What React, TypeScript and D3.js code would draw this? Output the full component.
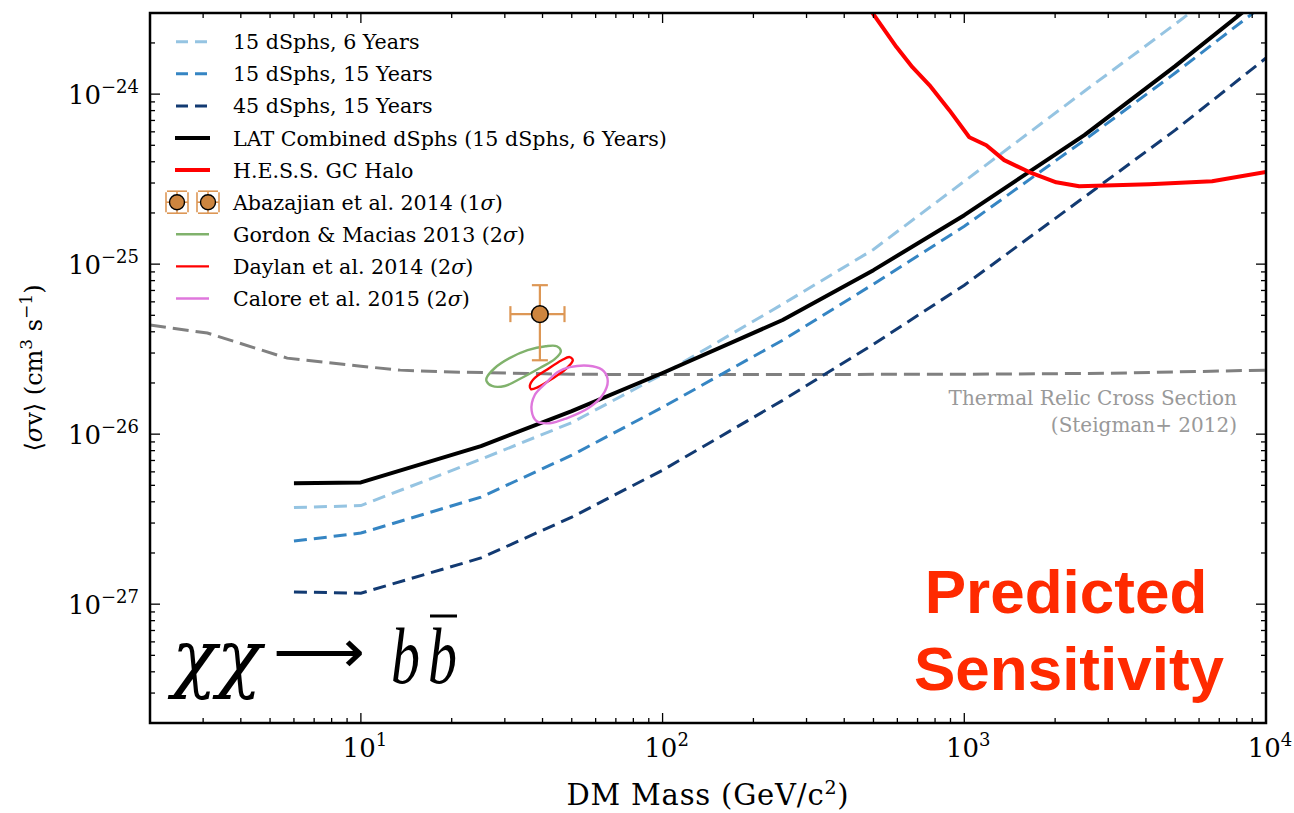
import React from 'react';
import * as d3 from 'd3';

const W = 1294;
const H = 813;
const M = { left: 150, right: 1266, top: 13, bottom: 723 };

// Mass grid (GeV) of the dSph sensitivity projections
const massPoints = [6, 10, 25, 50, 100, 250, 500, 1000, 2500, 5000, 10000];
const latCombined = [5.15e-27, 5.2e-27, 8.5e-27, 1.365e-26, 2.29e-26, 4.69e-26, 9.22e-26, 1.94e-25, 5.74e-25, 1.46e-24, 3.9e-24];
const sens15dSph6yr = [3.7e-27, 3.8e-27, 7.12e-27, 1.17e-26, 2.25e-26, 5.82e-26, 1.22e-25, 3.07e-25, 1.04e-24, 2.58e-24, 6.6e-24];
const sens15dSph15yr = [2.35e-27, 2.62e-27, 4.26e-27, 7.52e-27, 1.44e-26, 3.57e-26, 7.63e-26, 1.67e-25, 5.36e-25, 1.33e-24, 3.43e-24];
const sens45dSph15yr = [1.18e-27, 1.16e-27, 1.87e-27, 3.25e-27, 6.14e-27, 1.58e-26, 3.38e-26, 7.52e-26, 2.48e-25, 6.14e-25, 1.63e-24];

// H.E.S.S. Galactic Center halo limit
const hessMass = [490, 596, 673, 766, 892, 1039, 1183, 1356, 1641, 2017, 2403, 4100, 6627, 10000];
const hessSigmaV = [3.1e-24, 1.89e-24, 1.44e-24, 1.13e-24, 8.05e-25, 5.58e-25, 5.0e-25, 4.09e-25, 3.48e-25, 3.03e-25, 2.87e-25, 2.95e-25, 3.07e-25, 3.48e-25];

// Thermal relic cross section (Steigman+ 2012)
const thermalMass = [2, 3.1, 5.7, 10, 13.5, 20, 50, 100, 1000, 3000, 10000];
const thermalSigmaV = [4.38e-26, 3.93e-26, 2.8e-26, 2.51e-26, 2.38e-26, 2.32e-26, 2.25e-26, 2.24e-26, 2.25e-26, 2.28e-26, 2.38e-26];

// Galactic Center excess best-fit regions (closed contours)
const gordonMass = [26.1, 27.8, 31.1, 35.7, 41.0, 44.6, 46.0, 43.9, 39.2, 34.1, 30.0, 27.2, 26.1];
const gordonSigmaV = [2.14e-26, 2.45e-26, 2.8e-26, 3.12e-26, 3.29e-26, 3.29e-26, 3.08e-26, 2.76e-26, 2.45e-26, 2.14e-26, 1.92e-26, 1.92e-26, 2.05e-26];
const daylanMass = [36.3, 37.4, 41.6, 46.3, 49.2, 50.4, 47.7, 42.9, 38.6, 36.6];
const daylanSigmaV = [1.92e-26, 2.11e-26, 2.41e-26, 2.72e-26, 2.84e-26, 2.72e-26, 2.41e-26, 2.11e-26, 1.89e-26, 1.84e-26];
const caloreMass = [49.2, 58.6, 63.8, 65.8, 63.3, 57.3, 48.1, 42.3, 38.3, 36.8, 37.7, 41.3, 44.9];
const caloreSigmaV = [2.48e-26, 2.51e-26, 2.35e-26, 2.05e-26, 1.7e-26, 1.44e-26, 1.24e-26, 1.16e-26, 1.19e-26, 1.38e-26, 1.7e-26, 2.02e-26, 2.32e-26];

// Abazajian et al. 2014 best fit with 1 sigma errors
const abazajianMass = [39.2];
const abazajianMassRange = [[31.3, 47.3]];
const abazajianSigmaV = [5.08e-26];
const abazajianSigmaVRange = [[2.72e-26, 7.52e-26]];

const xMajorTicks = [10, 100, 1000, 10000];
const xTickExponents = ['1', '2', '3', '4'];
const yMajorTicks = [1e-27, 1e-26, 1e-25, 1e-24];
const yTickExponents = ['\u221227', '\u221226', '\u221225', '\u221224'];

const legendLabels = [
  '15 dSphs, 6 Years',
  '15 dSphs, 15 Years',
  '45 dSphs, 15 Years',
  'LAT Combined dSphs (15 dSphs, 6 Years)',
  'H.E.S.S. GC Halo',
  'Abazajian et al. 2014 (1',
  'Gordon & Macias 2013 (2',
  'Daylan et al. 2014 (2',
  'Calore et al. 2015 (2',
];

const C_LIGHT = '#95c4e2';
const C_MID = '#3585c3';
const C_DARK = '#123a72';
const C_RED = '#ff0000';
const C_GREEN = '#80b26c';
const C_PINK = '#df77dc';
const C_PERU = '#cd853f';
const C_ERR = '#dd9755';
const SERIF = '"DejaVu Serif", serif';
const TIMES = '"Liberation Serif", serif';

const x = d3.scaleLog().domain([2, 1e4]).range([M.left, M.right]);
const y = d3.scaleLog().domain([2e-28, 3e-24]).range([M.bottom, M.top]);

const zip = (a: number[], b: number[]) => a.map((v, i) => [v, b[i]] as [number, number]);
const line = d3.line<[number, number]>().x(d => x(d[0])).y(d => y(d[1]));
const closed = d3.line<[number, number]>().x(d => x(d[0])).y(d => y(d[1])).curve(d3.curveCatmullRomClosed.alpha(0.5));

function minorTicks(lo: number, hi: number) {
  const out: number[] = [];
  for (let e = Math.floor(Math.log10(lo)); e <= Math.ceil(Math.log10(hi)); e++) {
    for (let k = 2; k <= 9; k++) {
      const v = k * Math.pow(10, e);
      if (v > lo && v < hi) out.push(v);
    }
  }
  return out;
}

const xMinor = minorTicks(2, 1e4);
const yMinor = minorTicks(2e-28, 3e-24);

export default function App() {
  const legendY = (i: number) => 41.7 + i * 32.1;
  const hx0 = 176;
  const hx1 = 209;

  const abX = x(abazajianMass[0]);
  const abY = y(abazajianSigmaV[0]);

  return (
    <svg width={W} height={H} style={{ position: 'absolute', left: 0, top: 0, background: '#fff' }}>
      <defs>
        <clipPath id="plot-clip">
          <rect x={M.left} y={M.top} width={M.right - M.left} height={M.bottom - M.top} />
        </clipPath>
      </defs>

      <g clipPath="url(#plot-clip)" fill="none">
        <path d={line(zip(thermalMass, thermalSigmaV))!} stroke="#808080" strokeWidth={3} strokeDasharray="16,7" />
        <path d={line(zip(massPoints, sens15dSph6yr))!} stroke={C_LIGHT} strokeWidth={3} strokeDasharray="13,7" />
        <path d={line(zip(massPoints, sens15dSph15yr))!} stroke={C_MID} strokeWidth={3} strokeDasharray="13,7" />
        <path d={line(zip(massPoints, sens45dSph15yr))!} stroke={C_DARK} strokeWidth={3} strokeDasharray="13,7" />
        <path d={line(zip(massPoints, latCombined))!} stroke="#000" strokeWidth={4} strokeLinejoin="round" />
        <path d={line(zip(hessMass, hessSigmaV))!} stroke={C_RED} strokeWidth={4} strokeLinejoin="round" />
        <path d={closed(zip(gordonMass, gordonSigmaV))!} stroke={C_GREEN} strokeWidth={2.4} />
        <path d={closed(zip(daylanMass, daylanSigmaV))!} stroke={C_RED} strokeWidth={2.4} />
        <path d={closed(zip(caloreMass, caloreSigmaV))!} stroke={C_PINK} strokeWidth={2.4} />

        {/* Abazajian et al. error bars and marker */}
        <g stroke={C_ERR} strokeWidth={2.2}>
          <line x1={x(abazajianMassRange[0][0])} x2={x(abazajianMassRange[0][1])} y1={abY} y2={abY} />
          <line x1={abX} x2={abX} y1={y(abazajianSigmaVRange[0][0])} y2={y(abazajianSigmaVRange[0][1])} />
          <line x1={x(abazajianMassRange[0][0])} x2={x(abazajianMassRange[0][0])} y1={abY - 8} y2={abY + 8} />
          <line x1={x(abazajianMassRange[0][1])} x2={x(abazajianMassRange[0][1])} y1={abY - 8} y2={abY + 8} />
          <line x1={abX - 8} x2={abX + 8} y1={y(abazajianSigmaVRange[0][0])} y2={y(abazajianSigmaVRange[0][0])} />
          <line x1={abX - 8} x2={abX + 8} y1={y(abazajianSigmaVRange[0][1])} y2={y(abazajianSigmaVRange[0][1])} />
        </g>
        <circle cx={abX} cy={abY} r={8.3} fill={C_PERU} stroke="#000" strokeWidth={1.5} />
      </g>

      {/* Ticks, inward on all four sides */}
      <g stroke="#000" strokeWidth={1.3}>
        {xMajorTicks.map(t => (
          <g key={'xM' + t}>
            <line x1={x(t)} x2={x(t)} y1={M.bottom} y2={M.bottom - 10} />
            <line x1={x(t)} x2={x(t)} y1={M.top} y2={M.top + 10} />
          </g>
        ))}
        {xMinor.map(t => (
          <g key={'xm' + t}>
            <line x1={x(t)} x2={x(t)} y1={M.bottom} y2={M.bottom - 5} />
            <line x1={x(t)} x2={x(t)} y1={M.top} y2={M.top + 5} />
          </g>
        ))}
        {yMajorTicks.map(t => (
          <g key={'yM' + t}>
            <line x1={M.left} x2={M.left + 10} y1={y(t)} y2={y(t)} />
            <line x1={M.right} x2={M.right - 10} y1={y(t)} y2={y(t)} />
          </g>
        ))}
        {yMinor.map(t => (
          <g key={'ym' + t}>
            <line x1={M.left} x2={M.left + 5} y1={y(t)} y2={y(t)} />
            <line x1={M.right} x2={M.right - 5} y1={y(t)} y2={y(t)} />
          </g>
        ))}
      </g>

      <rect x={M.left} y={M.top} width={M.right - M.left} height={M.bottom - M.top} fill="none" stroke="#000" strokeWidth={2.5} />

      {/* Tick labels */}
      <g fontFamily={SERIF} fill="#000">
        {xMajorTicks.map((t, i) => (
          <text key={'xl' + t} x={x(t) + 4} y={757} textAnchor="middle" fontSize={26}>
            10<tspan dy={-11} fontSize={18}>{xTickExponents[i]}</tspan>
          </text>
        ))}
        {yMajorTicks.map((t, i) => (
          <text key={'yl' + t} x={139} y={y(t) + 10} textAnchor="end" fontSize={26}>
            10<tspan dy={-11} fontSize={18}>{yTickExponents[i]}</tspan>
          </text>
        ))}
      </g>

      {/* Axis titles */}
      <text x={708} y={805} textAnchor="middle" fontFamily={SERIF} fontSize={29} letterSpacing={0.8}>
        DM Mass (GeV/c<tspan dy={-11} fontSize={19}>2</tspan><tspan dy={11}>)</tspan>
      </text>
      <text transform={`translate(42,${(M.top + M.bottom) / 2}) rotate(-90)`} textAnchor="middle" fontFamily={SERIF} fontSize={24}>
        {'\u27E8'}<tspan fontStyle="italic">{'\u03C3'}</tspan>v{'\u27E9'} (cm<tspan dy={-10} fontSize={17}>3</tspan>
        <tspan dy={10}> s</tspan><tspan dy={-10} fontSize={17}>{'\u22121'}</tspan><tspan dy={10}>)</tspan>
      </text>

      {/* Thermal relic annotation */}
      <g fontFamily={SERIF} fontSize={20} fill="#999" textAnchor="end">
        <text x={1237} y={405}>Thermal Relic Cross Section</text>
        <text x={1237} y={432}>(Steigman+ 2012)</text>
      </g>

      {/* Annihilation channel */}
      <g fill="#000">
        <text x={172} y={683} fontFamily={SERIF} fontSize={74} fontStyle="italic">{'\u03C7\u03C7'}</text>
        <text x={273} y={672} fontFamily='"DejaVu Sans", sans-serif' fontSize={60} textLength={92} lengthAdjust="spacingAndGlyphs">{'\u27F6'}</text>
        <text x={391} y={683} fontFamily={TIMES} fontSize={80} fontStyle="italic" textLength={29} lengthAdjust="spacingAndGlyphs">b</text>
        <text x={428} y={683} fontFamily={TIMES} fontSize={80} fontStyle="italic" textLength={29} lengthAdjust="spacingAndGlyphs">b</text>
        <line x1={430} x2={457} y1={616} y2={616} stroke="#000" strokeWidth={3} />
      </g>

      {/* Predicted Sensitivity stamp */}
      <g fontFamily='"Liberation Sans", Arial, sans-serif' fontWeight="bold" fontSize={62} fill="#ff2a00" textAnchor="middle">
        <text x={1066} y={613}>Predicted</text>
        <text x={1069} y={690}>Sensitivity</text>
      </g>

      {/* Legend */}
      <g fontFamily={SERIF} fontSize={20.6} fill="#000">
        <line x1={hx0} x2={hx1} y1={legendY(0)} y2={legendY(0)} stroke={C_LIGHT} strokeWidth={3} strokeDasharray="12,7" />
        <line x1={hx0} x2={hx1} y1={legendY(1)} y2={legendY(1)} stroke={C_MID} strokeWidth={3} strokeDasharray="12,7" />
        <line x1={hx0} x2={hx1} y1={legendY(2)} y2={legendY(2)} stroke={C_DARK} strokeWidth={3} strokeDasharray="12,7" />
        <line x1={hx0 - 1} x2={hx1 + 1} y1={legendY(3)} y2={legendY(3)} stroke="#000" strokeWidth={4} />
        <line x1={hx0 - 1} x2={hx1 + 1} y1={legendY(4)} y2={legendY(4)} stroke={C_RED} strokeWidth={4} />
        {[177, 208].map(cx => (
          <g key={'lm' + cx}>
            <g stroke={C_ERR} strokeWidth={1.6} fill="none">
              <line x1={cx - 11} x2={cx + 11} y1={legendY(5)} y2={legendY(5)} />
              <line x1={cx} x2={cx} y1={legendY(5) - 11} y2={legendY(5) + 11} />
              <line x1={cx - 11} x2={cx - 11} y1={legendY(5) - 10} y2={legendY(5) + 10} />
              <line x1={cx + 11} x2={cx + 11} y1={legendY(5) - 10} y2={legendY(5) + 10} />
              <line x1={cx - 10} x2={cx + 10} y1={legendY(5) - 11} y2={legendY(5) - 11} />
              <line x1={cx - 10} x2={cx + 10} y1={legendY(5) + 11} y2={legendY(5) + 11} />
            </g>
            <circle cx={cx} cy={legendY(5)} r={7.5} fill={C_PERU} stroke="#000" strokeWidth={1.4} />
          </g>
        ))}
        <line x1={hx0} x2={hx1} y1={legendY(6)} y2={legendY(6)} stroke={C_GREEN} strokeWidth={2.4} />
        <line x1={hx0} x2={hx1} y1={legendY(7)} y2={legendY(7)} stroke={C_RED} strokeWidth={2.4} />
        <line x1={hx0} x2={hx1} y1={legendY(8)} y2={legendY(8)} stroke={C_PINK} strokeWidth={2.4} />
        {legendLabels.map((label, i) => (
          <text key={label} x={233} y={legendY(i) + 7.5}>
            {label}
            {i >= 5 ? (
              <>
                <tspan fontStyle="italic">{'\u03C3'}</tspan>)
              </>
            ) : null}
          </text>
        ))}
      </g>
    </svg>
  );
}
